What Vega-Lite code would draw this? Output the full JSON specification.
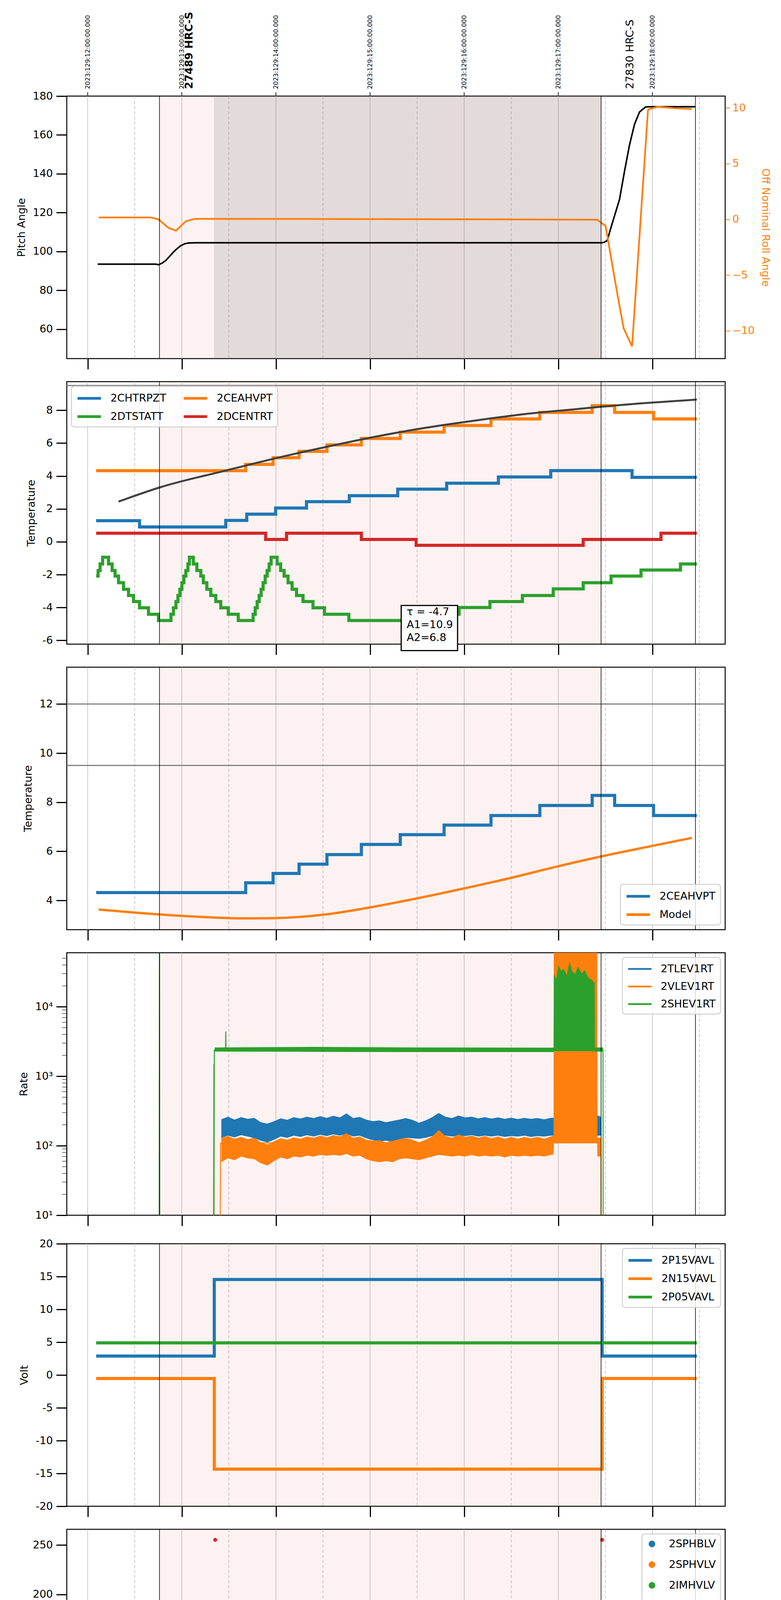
{
  "$schema": "https://vega.github.io/schema/vega-lite/v6.json",
  "background": "white",
  "padding": {"left": 31, "top": 29, "right": 5, "bottom": 0},
  "spacing": 27,
  "datasets": {
    "hg": [{"t": 8}, {"t": 9}, {"t": 10}, {"t": 11}, {"t": 12}, {"t": 13}, {"t": 14}],
    "mg": [{"t": 8.5}, {"t": 9.5}, {"t": 10.5}, {"t": 11.5}, {"t": 12.5}, {"t": 13.5}, {"t": 14.5}],
    "shade": [{"s": 8.763, "e": 13.455}],
    "slew": [{"s": 9.343, "e": 13.455}],
    "vl": [{"t": 8.763}, {"t": 13.455}, {"t": 14.457}],
    "lim2": [{"v": 9.5}],
    "lim3": [{"v": 12}, {"v": 9.5}],
    "minor": [
      {"t": 7.778, "v": 20}, {"t": 7.778, "v": 30}, {"t": 7.778, "v": 40}, {"t": 7.778, "v": 50}, {"t": 7.778, "v": 60}, {"t": 7.778, "v": 70}, {"t": 7.778, "v": 80}, {"t": 7.778, "v": 90},
      {"t": 7.778, "v": 200}, {"t": 7.778, "v": 300}, {"t": 7.778, "v": 400}, {"t": 7.778, "v": 500}, {"t": 7.778, "v": 600}, {"t": 7.778, "v": 700}, {"t": 7.778, "v": 800}, {"t": 7.778, "v": 900},
      {"t": 7.778, "v": 2000}, {"t": 7.778, "v": 3000}, {"t": 7.778, "v": 4000}, {"t": 7.778, "v": 5000}, {"t": 7.778, "v": 6000}, {"t": 7.778, "v": 7000}, {"t": 7.778, "v": 8000}, {"t": 7.778, "v": 9000},
      {"t": 7.778, "v": 20000}, {"t": 7.778, "v": 30000}, {"t": 7.778, "v": 40000}, {"t": 7.778, "v": 50000}
    ],
    "toplab": [
      {"t": 8, "y": 183.6, "label": "2023:129:12:00:00.000"}, {"t": 9, "y": 183.6, "label": "2023:129:13:00:00.000"},
      {"t": 10, "y": 183.6, "label": "2023:129:14:00:00.000"}, {"t": 11, "y": 183.6, "label": "2023:129:15:00:00.000"},
      {"t": 12, "y": 183.6, "label": "2023:129:16:00:00.000"}, {"t": 13, "y": 183.6, "label": "2023:129:17:00:00.000"},
      {"t": 14, "y": 183.6, "label": "2023:129:18:00:00.000"}
    ],
    "obs": [{"label": "27489 HRC-S", "t": 9.079, "y": 183.6}, {"label": "27830 HRC-S", "t": 13.764, "y": 183.6}],
    "att": [
      {"k": "pitch", "t": 8.106, "v": 93.5}, {"k": "pitch", "t": 8.726, "v": 93.5}, {"k": "pitch", "t": 8.752, "v": 93.2},
      {"k": "pitch", "t": 8.790, "v": 94.0}, {"k": "pitch", "t": 8.832, "v": 95.5}, {"k": "pitch", "t": 8.870, "v": 97.5},
      {"k": "pitch", "t": 8.911, "v": 99.7}, {"k": "pitch", "t": 8.950, "v": 101.5}, {"k": "pitch", "t": 8.990, "v": 103.0},
      {"k": "pitch", "t": 9.030, "v": 104.0}, {"k": "pitch", "t": 9.070, "v": 104.4}, {"k": "pitch", "t": 9.149, "v": 104.5},
      {"k": "pitch", "t": 13.466, "v": 104.5}, {"k": "pitch", "t": 13.493, "v": 104.9}, {"k": "pitch", "t": 13.519, "v": 105.6},
      {"k": "pitch", "t": 13.572, "v": 114.3}, {"k": "pitch", "t": 13.651, "v": 126.9}, {"k": "pitch", "t": 13.704, "v": 141.4},
      {"k": "pitch", "t": 13.757, "v": 154.9}, {"k": "pitch", "t": 13.810, "v": 165.5}, {"k": "pitch", "t": 13.863, "v": 171.8},
      {"k": "pitch", "t": 13.927, "v": 174.4}, {"k": "pitch", "t": 13.969, "v": 174.5}, {"k": "pitch", "t": 14.457, "v": 174.5},
      {"k": "roll", "t": 8.117, "v": 0.17}, {"k": "roll", "t": 8.673, "v": 0.17}, {"k": "roll", "t": 8.752, "v": 0.0},
      {"k": "roll", "t": 8.858, "v": -0.76}, {"k": "roll", "t": 8.938, "v": -1.01}, {"k": "roll", "t": 9.043, "v": -0.17},
      {"k": "roll", "t": 9.139, "v": 0.05}, {"k": "roll", "t": 10.79, "v": 0.03}, {"k": "roll", "t": 12.38, "v": 0.0},
      {"k": "roll", "t": 13.413, "v": -0.03}, {"k": "roll", "t": 13.503, "v": -0.59}, {"k": "roll", "t": 13.556, "v": -3.2},
      {"k": "roll", "t": 13.625, "v": -6.57}, {"k": "roll", "t": 13.694, "v": -9.76}, {"k": "roll", "t": 13.784, "v": -11.4},
      {"k": "roll", "t": 13.953, "v": 9.8}, {"k": "roll", "t": 13.969, "v": 9.9}, {"k": "roll", "t": 14.059, "v": 10.1},
      {"k": "roll", "t": 14.234, "v": 9.97}, {"k": "roll", "t": 14.419, "v": 9.9}
    ],
    "p2": [
      {"s": "2CHTRPZT", "t": 8.090, "v": 1.28}, {"s": "2CHTRPZT", "t": 8.551, "v": 0.9}, {"s": "2CHTRPZT", "t": 9.467, "v": 1.3},
      {"s": "2CHTRPZT", "t": 9.690, "v": 1.68}, {"s": "2CHTRPZT", "t": 9.997, "v": 2.05}, {"s": "2CHTRPZT", "t": 10.325, "v": 2.44},
      {"s": "2CHTRPZT", "t": 10.780, "v": 2.8}, {"s": "2CHTRPZT", "t": 11.294, "v": 3.2}, {"s": "2CHTRPZT", "t": 11.814, "v": 3.56},
      {"s": "2CHTRPZT", "t": 12.364, "v": 3.94}, {"s": "2CHTRPZT", "t": 12.920, "v": 4.33}, {"s": "2CHTRPZT", "t": 13.784, "v": 3.92},
      {"s": "2CHTRPZT", "t": 14.472, "v": 3.92},
      {"s": "2CEAHVPT", "t": 8.090, "v": 4.32}, {"s": "2CEAHVPT", "t": 9.679, "v": 4.71}, {"s": "2CEAHVPT", "t": 9.970, "v": 5.11},
      {"s": "2CEAHVPT", "t": 10.246, "v": 5.5}, {"s": "2CEAHVPT", "t": 10.542, "v": 5.89}, {"s": "2CEAHVPT", "t": 10.908, "v": 6.28},
      {"s": "2CEAHVPT", "t": 11.321, "v": 6.67}, {"s": "2CEAHVPT", "t": 11.787, "v": 7.07}, {"s": "2CEAHVPT", "t": 12.285, "v": 7.47},
      {"s": "2CEAHVPT", "t": 12.804, "v": 7.87}, {"s": "2CEAHVPT", "t": 13.360, "v": 8.28}, {"s": "2CEAHVPT", "t": 13.599, "v": 7.87},
      {"s": "2CEAHVPT", "t": 14.012, "v": 7.47}, {"s": "2CEAHVPT", "t": 14.472, "v": 7.47},
      {"s": "2DCENTRT", "t": 8.090, "v": 0.52}, {"s": "2DCENTRT", "t": 9.891, "v": 0.14}, {"s": "2DCENTRT", "t": 10.113, "v": 0.52},
      {"s": "2DCENTRT", "t": 10.908, "v": 0.14}, {"s": "2DCENTRT", "t": 11.490, "v": -0.22}, {"s": "2DCENTRT", "t": 13.265, "v": 0.14},
      {"s": "2DCENTRT", "t": 14.091, "v": 0.52}, {"s": "2DCENTRT", "t": 14.472, "v": 0.52},
      {"s": "2DTSTATT", "t": 8.090, "v": -2.09}, {"s": "2DTSTATT", "t": 8.111, "v": -1.75}, {"s": "2DTSTATT", "t": 8.132, "v": -1.35},
      {"s": "2DTSTATT", "t": 8.159, "v": -0.94}, {"s": "2DTSTATT", "t": 8.222, "v": -1.35}, {"s": "2DTSTATT", "t": 8.260, "v": -1.75},
      {"s": "2DTSTATT", "t": 8.291, "v": -2.09}, {"s": "2DTSTATT", "t": 8.328, "v": -2.49}, {"s": "2DTSTATT", "t": 8.381, "v": -2.89},
      {"s": "2DTSTATT", "t": 8.434, "v": -3.27}, {"s": "2DTSTATT", "t": 8.487, "v": -3.64}, {"s": "2DTSTATT", "t": 8.551, "v": -4.02},
      {"s": "2DTSTATT", "t": 8.646, "v": -4.41}, {"s": "2DTSTATT", "t": 8.752, "v": -4.79}, {"s": "2DTSTATT", "t": 8.885, "v": -4.41},
      {"s": "2DTSTATT", "t": 8.911, "v": -4.02}, {"s": "2DTSTATT", "t": 8.938, "v": -3.64}, {"s": "2DTSTATT", "t": 8.959, "v": -3.27},
      {"s": "2DTSTATT", "t": 8.980, "v": -2.89}, {"s": "2DTSTATT", "t": 9.001, "v": -2.49}, {"s": "2DTSTATT", "t": 9.022, "v": -2.09},
      {"s": "2DTSTATT", "t": 9.043, "v": -1.75}, {"s": "2DTSTATT", "t": 9.065, "v": -1.35}, {"s": "2DTSTATT", "t": 9.081, "v": -0.94},
      {"s": "2DTSTATT", "t": 9.123, "v": -1.35}, {"s": "2DTSTATT", "t": 9.160, "v": -1.75}, {"s": "2DTSTATT", "t": 9.202, "v": -2.09},
      {"s": "2DTSTATT", "t": 9.229, "v": -2.49}, {"s": "2DTSTATT", "t": 9.266, "v": -2.89}, {"s": "2DTSTATT", "t": 9.308, "v": -3.27},
      {"s": "2DTSTATT", "t": 9.361, "v": -3.64}, {"s": "2DTSTATT", "t": 9.414, "v": -4.02}, {"s": "2DTSTATT", "t": 9.494, "v": -4.41},
      {"s": "2DTSTATT", "t": 9.600, "v": -4.79}, {"s": "2DTSTATT", "t": 9.758, "v": -4.41}, {"s": "2DTSTATT", "t": 9.780, "v": -4.02},
      {"s": "2DTSTATT", "t": 9.801, "v": -3.64}, {"s": "2DTSTATT", "t": 9.822, "v": -3.27}, {"s": "2DTSTATT", "t": 9.843, "v": -2.89},
      {"s": "2DTSTATT", "t": 9.864, "v": -2.49}, {"s": "2DTSTATT", "t": 9.886, "v": -2.09}, {"s": "2DTSTATT", "t": 9.907, "v": -1.75},
      {"s": "2DTSTATT", "t": 9.928, "v": -1.35}, {"s": "2DTSTATT", "t": 9.949, "v": -0.94}, {"s": "2DTSTATT", "t": 10.013, "v": -1.35},
      {"s": "2DTSTATT", "t": 10.050, "v": -1.75}, {"s": "2DTSTATT", "t": 10.087, "v": -2.09}, {"s": "2DTSTATT", "t": 10.129, "v": -2.49},
      {"s": "2DTSTATT", "t": 10.172, "v": -2.89}, {"s": "2DTSTATT", "t": 10.219, "v": -3.27}, {"s": "2DTSTATT", "t": 10.288, "v": -3.64},
      {"s": "2DTSTATT", "t": 10.394, "v": -4.02}, {"s": "2DTSTATT", "t": 10.516, "v": -4.41}, {"s": "2DTSTATT", "t": 10.775, "v": -4.79},
      {"s": "2DTSTATT", "t": 11.586, "v": -4.41}, {"s": "2DTSTATT", "t": 11.946, "v": -4.0}, {"s": "2DTSTATT", "t": 12.274, "v": -3.64},
      {"s": "2DTSTATT", "t": 12.619, "v": -3.27}, {"s": "2DTSTATT", "t": 12.947, "v": -2.87}, {"s": "2DTSTATT", "t": 13.265, "v": -2.49},
      {"s": "2DTSTATT", "t": 13.561, "v": -2.09}, {"s": "2DTSTATT", "t": 13.879, "v": -1.72}, {"s": "2DTSTATT", "t": 14.298, "v": -1.35},
      {"s": "2DTSTATT", "t": 14.472, "v": -1.35}
    ],
    "fit": [
      {"t": 8.328, "v": 2.44}, {"t": 8.763, "v": 3.30}, {"t": 9.467, "v": 4.33}, {"t": 9.997, "v": 5.08},
      {"t": 10.526, "v": 5.76}, {"t": 11.056, "v": 6.39}, {"t": 11.586, "v": 6.93}, {"t": 12.115, "v": 7.37},
      {"t": 12.645, "v": 7.77}, {"t": 13.175, "v": 8.06}, {"t": 13.704, "v": 8.34}, {"t": 14.472, "v": 8.65}
    ],
    "box": [{"t1": 11.331, "t2": 11.930, "v1": -3.88, "v2": -6.62, "tx": 11.39, "ty": -3.98, "txt": "τ = -4.7\nA1=10.9\nA2=6.8"}],
    "p3": [
      {"s": "2CEAHVPT", "t": 8.090, "v": 4.32}, {"s": "2CEAHVPT", "t": 9.679, "v": 4.72}, {"s": "2CEAHVPT", "t": 9.970, "v": 5.1},
      {"s": "2CEAHVPT", "t": 10.246, "v": 5.48}, {"s": "2CEAHVPT", "t": 10.542, "v": 5.87}, {"s": "2CEAHVPT", "t": 10.908, "v": 6.28},
      {"s": "2CEAHVPT", "t": 11.321, "v": 6.68}, {"s": "2CEAHVPT", "t": 11.787, "v": 7.07}, {"s": "2CEAHVPT", "t": 12.285, "v": 7.46},
      {"s": "2CEAHVPT", "t": 12.804, "v": 7.87}, {"s": "2CEAHVPT", "t": 13.360, "v": 8.28}, {"s": "2CEAHVPT", "t": 13.599, "v": 7.87},
      {"s": "2CEAHVPT", "t": 14.012, "v": 7.46}, {"s": "2CEAHVPT", "t": 14.472, "v": 7.46}
    ],
    "model": [
      {"s": "Model", "t": 8.117, "v": 3.63}, {"s": "Model", "t": 8.487, "v": 3.51}, {"s": "Model", "t": 8.768, "v": 3.43},
      {"s": "Model", "t": 9.202, "v": 3.33}, {"s": "Model", "t": 9.679, "v": 3.27}, {"s": "Model", "t": 9.970, "v": 3.28},
      {"s": "Model", "t": 10.526, "v": 3.43}, {"s": "Model", "t": 11.003, "v": 3.72}, {"s": "Model", "t": 11.480, "v": 4.07},
      {"s": "Model", "t": 12.010, "v": 4.50}, {"s": "Model", "t": 12.486, "v": 4.91}, {"s": "Model", "t": 12.963, "v": 5.36},
      {"s": "Model", "t": 13.440, "v": 5.78}, {"s": "Model", "t": 13.969, "v": 6.20}, {"s": "Model", "t": 14.419, "v": 6.55}
    ],
    "p4l": [
      {"s": "2VLEV1RT", "t": 9.336, "v": 1}, {"s": "2VLEV1RT", "t": 9.340, "v": 1500}, {"s": "2VLEV1RT", "t": 9.344, "v": 1},
      {"s": "2VLEV1RT", "t": 9.405, "v": 1}, {"s": "2VLEV1RT", "t": 9.412, "v": 110}, {"s": "2VLEV1RT", "t": 13.413, "v": 110},
      {"s": "2VLEV1RT", "t": 13.453, "v": 100}, {"s": "2VLEV1RT", "t": 13.455, "v": 1},
      {"s": "2SHEV1RT", "t": 8.090, "v": 1}, {"s": "2SHEV1RT", "t": 8.760, "v": 1}, {"s": "2SHEV1RT", "t": 8.763, "v": 1000000},
      {"s": "2SHEV1RT", "t": 8.766, "v": 1}, {"s": "2SHEV1RT", "t": 9.340, "v": 1}, {"s": "2SHEV1RT", "t": 9.346, "v": 2400},
      {"s": "2SHEV1RT", "t": 9.465, "v": 2400}, {"s": "2SHEV1RT", "t": 9.467, "v": 4400}, {"s": "2SHEV1RT", "t": 9.469, "v": 2400},
      {"s": "2SHEV1RT", "t": 13.475, "v": 2400}, {"s": "2SHEV1RT", "t": 13.477, "v": 1}, {"s": "2SHEV1RT", "t": 14.472, "v": 1}
    ],
    "p4b": [
      {"s": "2TLEV1RT", "t": 9.42, "hi": 240, "lo": 130}, {"s": "2TLEV1RT", "t": 9.49, "hi": 262, "lo": 140}, {"s": "2TLEV1RT", "t": 9.56, "hi": 238, "lo": 132},
      {"s": "2TLEV1RT", "t": 9.63, "hi": 258, "lo": 142}, {"s": "2TLEV1RT", "t": 9.70, "hi": 244, "lo": 136}, {"s": "2TLEV1RT", "t": 9.77, "hi": 252, "lo": 128},
      {"s": "2TLEV1RT", "t": 9.84, "hi": 218, "lo": 118}, {"s": "2TLEV1RT", "t": 9.91, "hi": 208, "lo": 112}, {"s": "2TLEV1RT", "t": 9.98, "hi": 226, "lo": 122},
      {"s": "2TLEV1RT", "t": 10.05, "hi": 248, "lo": 136}, {"s": "2TLEV1RT", "t": 10.12, "hi": 236, "lo": 130}, {"s": "2TLEV1RT", "t": 10.19, "hi": 258, "lo": 140},
      {"s": "2TLEV1RT", "t": 10.26, "hi": 246, "lo": 134}, {"s": "2TLEV1RT", "t": 10.33, "hi": 262, "lo": 142}, {"s": "2TLEV1RT", "t": 10.40, "hi": 250, "lo": 136},
      {"s": "2TLEV1RT", "t": 10.47, "hi": 266, "lo": 144}, {"s": "2TLEV1RT", "t": 10.54, "hi": 252, "lo": 138}, {"s": "2TLEV1RT", "t": 10.61, "hi": 270, "lo": 146},
      {"s": "2TLEV1RT", "t": 10.68, "hi": 256, "lo": 140}, {"s": "2TLEV1RT", "t": 10.75, "hi": 292, "lo": 148}, {"s": "2TLEV1RT", "t": 10.82, "hi": 250, "lo": 136},
      {"s": "2TLEV1RT", "t": 10.89, "hi": 260, "lo": 140}, {"s": "2TLEV1RT", "t": 10.96, "hi": 238, "lo": 128}, {"s": "2TLEV1RT", "t": 11.03, "hi": 226, "lo": 120},
      {"s": "2TLEV1RT", "t": 11.10, "hi": 232, "lo": 116}, {"s": "2TLEV1RT", "t": 11.17, "hi": 218, "lo": 118}, {"s": "2TLEV1RT", "t": 11.24, "hi": 228, "lo": 114},
      {"s": "2TLEV1RT", "t": 11.31, "hi": 238, "lo": 124}, {"s": "2TLEV1RT", "t": 11.38, "hi": 250, "lo": 130}, {"s": "2TLEV1RT", "t": 11.45, "hi": 236, "lo": 128},
      {"s": "2TLEV1RT", "t": 11.52, "hi": 214, "lo": 126}, {"s": "2TLEV1RT", "t": 11.59, "hi": 232, "lo": 130}, {"s": "2TLEV1RT", "t": 11.66, "hi": 258, "lo": 138},
      {"s": "2TLEV1RT", "t": 11.73, "hi": 296, "lo": 142}, {"s": "2TLEV1RT", "t": 11.80, "hi": 262, "lo": 140}, {"s": "2TLEV1RT", "t": 11.87, "hi": 250, "lo": 136},
      {"s": "2TLEV1RT", "t": 11.94, "hi": 272, "lo": 140}, {"s": "2TLEV1RT", "t": 12.01, "hi": 256, "lo": 138}, {"s": "2TLEV1RT", "t": 12.08, "hi": 262, "lo": 142},
      {"s": "2TLEV1RT", "t": 12.15, "hi": 248, "lo": 136}, {"s": "2TLEV1RT", "t": 12.22, "hi": 258, "lo": 140}, {"s": "2TLEV1RT", "t": 12.29, "hi": 246, "lo": 136},
      {"s": "2TLEV1RT", "t": 12.36, "hi": 256, "lo": 140}, {"s": "2TLEV1RT", "t": 12.43, "hi": 244, "lo": 134}, {"s": "2TLEV1RT", "t": 12.50, "hi": 254, "lo": 138},
      {"s": "2TLEV1RT", "t": 12.57, "hi": 242, "lo": 136}, {"s": "2TLEV1RT", "t": 12.64, "hi": 252, "lo": 140}, {"s": "2TLEV1RT", "t": 12.71, "hi": 244, "lo": 134},
      {"s": "2TLEV1RT", "t": 12.78, "hi": 250, "lo": 138}, {"s": "2TLEV1RT", "t": 12.85, "hi": 240, "lo": 136}, {"s": "2TLEV1RT", "t": 12.92, "hi": 252, "lo": 140},
      {"s": "2TLEV1RT", "t": 13.20, "hi": 260, "lo": 140}, {"s": "2TLEV1RT", "t": 13.40, "hi": 280, "lo": 140}, {"s": "2TLEV1RT", "t": 13.455, "hi": 260, "lo": 140},
      {"s": "2VLEV1RT", "t": 9.42, "hi": 130, "lo": 58}, {"s": "2VLEV1RT", "t": 9.49, "hi": 138, "lo": 66}, {"s": "2VLEV1RT", "t": 9.56, "hi": 126, "lo": 62},
      {"s": "2VLEV1RT", "t": 9.63, "hi": 134, "lo": 70}, {"s": "2VLEV1RT", "t": 9.70, "hi": 124, "lo": 66}, {"s": "2VLEV1RT", "t": 9.77, "hi": 130, "lo": 64},
      {"s": "2VLEV1RT", "t": 9.84, "hi": 112, "lo": 56}, {"s": "2VLEV1RT", "t": 9.91, "hi": 104, "lo": 52}, {"s": "2VLEV1RT", "t": 9.98, "hi": 116, "lo": 60},
      {"s": "2VLEV1RT", "t": 10.05, "hi": 128, "lo": 68}, {"s": "2VLEV1RT", "t": 10.12, "hi": 122, "lo": 64}, {"s": "2VLEV1RT", "t": 10.19, "hi": 132, "lo": 70},
      {"s": "2VLEV1RT", "t": 10.26, "hi": 126, "lo": 68}, {"s": "2VLEV1RT", "t": 10.33, "hi": 136, "lo": 72}, {"s": "2VLEV1RT", "t": 10.40, "hi": 130, "lo": 70},
      {"s": "2VLEV1RT", "t": 10.47, "hi": 140, "lo": 74}, {"s": "2VLEV1RT", "t": 10.54, "hi": 132, "lo": 72}, {"s": "2VLEV1RT", "t": 10.61, "hi": 142, "lo": 74},
      {"s": "2VLEV1RT", "t": 10.68, "hi": 136, "lo": 72}, {"s": "2VLEV1RT", "t": 10.75, "hi": 152, "lo": 76}, {"s": "2VLEV1RT", "t": 10.82, "hi": 130, "lo": 70},
      {"s": "2VLEV1RT", "t": 10.89, "hi": 136, "lo": 72}, {"s": "2VLEV1RT", "t": 10.96, "hi": 122, "lo": 64}, {"s": "2VLEV1RT", "t": 11.03, "hi": 118, "lo": 60},
      {"s": "2VLEV1RT", "t": 11.10, "hi": 120, "lo": 58}, {"s": "2VLEV1RT", "t": 11.17, "hi": 112, "lo": 60}, {"s": "2VLEV1RT", "t": 11.24, "hi": 118, "lo": 58},
      {"s": "2VLEV1RT", "t": 11.31, "hi": 124, "lo": 64}, {"s": "2VLEV1RT", "t": 11.38, "hi": 130, "lo": 66}, {"s": "2VLEV1RT", "t": 11.45, "hi": 122, "lo": 64},
      {"s": "2VLEV1RT", "t": 11.52, "hi": 112, "lo": 62}, {"s": "2VLEV1RT", "t": 11.59, "hi": 122, "lo": 66}, {"s": "2VLEV1RT", "t": 11.66, "hi": 136, "lo": 70},
      {"s": "2VLEV1RT", "t": 11.73, "hi": 168, "lo": 74}, {"s": "2VLEV1RT", "t": 11.80, "hi": 138, "lo": 72}, {"s": "2VLEV1RT", "t": 11.87, "hi": 130, "lo": 70},
      {"s": "2VLEV1RT", "t": 11.94, "hi": 146, "lo": 72}, {"s": "2VLEV1RT", "t": 12.01, "hi": 134, "lo": 70}, {"s": "2VLEV1RT", "t": 12.08, "hi": 140, "lo": 74},
      {"s": "2VLEV1RT", "t": 12.15, "hi": 130, "lo": 70}, {"s": "2VLEV1RT", "t": 12.22, "hi": 138, "lo": 72}, {"s": "2VLEV1RT", "t": 12.29, "hi": 128, "lo": 70},
      {"s": "2VLEV1RT", "t": 12.36, "hi": 136, "lo": 72}, {"s": "2VLEV1RT", "t": 12.43, "hi": 126, "lo": 68}, {"s": "2VLEV1RT", "t": 12.50, "hi": 134, "lo": 72},
      {"s": "2VLEV1RT", "t": 12.57, "hi": 126, "lo": 70}, {"s": "2VLEV1RT", "t": 12.64, "hi": 134, "lo": 72}, {"s": "2VLEV1RT", "t": 12.71, "hi": 128, "lo": 70},
      {"s": "2VLEV1RT", "t": 12.78, "hi": 134, "lo": 72}, {"s": "2VLEV1RT", "t": 12.85, "hi": 126, "lo": 70}, {"s": "2VLEV1RT", "t": 12.92, "hi": 136, "lo": 74},
      {"s": "2VLEV1RT", "t": 12.950, "hi": 140, "lo": 75},
      {"s": "2VLEV1RT", "t": 12.953, "lo": 110, "hi": 1000000}, {"s": "2VLEV1RT", "t": 13.413, "lo": 110, "hi": 1000000},
      {"s": "2VLEV1RT", "t": 13.416, "lo": 70, "hi": 130}, {"s": "2VLEV1RT", "t": 13.455, "lo": 70, "hi": 130},
      {"s": "2SHEV1RT", "t": 9.35, "lo": 2270, "hi": 2600}, {"s": "2SHEV1RT", "t": 10.4, "lo": 2250, "hi": 2650}, {"s": "2SHEV1RT", "t": 11.5, "lo": 2230, "hi": 2600},
      {"s": "2SHEV1RT", "t": 12.950, "lo": 2230, "hi": 2580},
      {"s": "2SHEV1RT", "t": 12.953, "lo": 2300, "hi": 30000}, {"s": "2SHEV1RT", "t": 12.98, "lo": 2300, "hi": 25000},
      {"s": "2SHEV1RT", "t": 13.00, "lo": 2300, "hi": 40000}, {"s": "2SHEV1RT", "t": 13.03, "lo": 2300, "hi": 33000},
      {"s": "2SHEV1RT", "t": 13.06, "lo": 2300, "hi": 35000}, {"s": "2SHEV1RT", "t": 13.09, "lo": 2300, "hi": 28000},
      {"s": "2SHEV1RT", "t": 13.12, "lo": 2300, "hi": 45000}, {"s": "2SHEV1RT", "t": 13.15, "lo": 2300, "hi": 32000},
      {"s": "2SHEV1RT", "t": 13.18, "lo": 2300, "hi": 30000}, {"s": "2SHEV1RT", "t": 13.21, "lo": 2300, "hi": 38000},
      {"s": "2SHEV1RT", "t": 13.25, "lo": 2300, "hi": 30000}, {"s": "2SHEV1RT", "t": 13.28, "lo": 2300, "hi": 34000},
      {"s": "2SHEV1RT", "t": 13.32, "lo": 2300, "hi": 26000}, {"s": "2SHEV1RT", "t": 13.35, "lo": 2300, "hi": 25000},
      {"s": "2SHEV1RT", "t": 13.387, "lo": 2300, "hi": 22000}, {"s": "2SHEV1RT", "t": 13.390, "lo": 2270, "hi": 2600},
      {"s": "2SHEV1RT", "t": 13.475, "lo": 2270, "hi": 2600}
    ],
    "p5": [
      {"s": "2P15VAVL", "t": 8.090, "v": 2.88}, {"s": "2P15VAVL", "t": 9.345, "v": 14.56}, {"s": "2P15VAVL", "t": 13.466, "v": 2.88}, {"s": "2P15VAVL", "t": 14.472, "v": 2.88},
      {"s": "2N15VAVL", "t": 8.090, "v": -0.54}, {"s": "2N15VAVL", "t": 9.345, "v": -14.35}, {"s": "2N15VAVL", "t": 13.466, "v": -0.54}, {"s": "2N15VAVL", "t": 14.472, "v": -0.54},
      {"s": "2P05VAVL", "t": 8.090, "v": 4.9}, {"s": "2P05VAVL", "t": 14.472, "v": 4.9}
    ],
    "p6p": [
      {"s": "2SPHBLV", "t": 9.361, "v": 118}, {"s": "2SPHBLV", "t": 9.364, "v": 102}, {"s": "2SPHBLV", "t": 9.372, "v": 97},
      {"s": "2SPHBLV", "t": 9.383, "v": 92}, {"s": "2SPHBLV", "t": 9.393, "v": 87}, {"s": "2SPHBLV", "t": 9.404, "v": 82},
      {"s": "2SPHVLV", "t": 9.358, "v": 127}, {"s": "2SPHVLV", "t": 9.360, "v": 124}, {"s": "2SPHVLV", "t": 9.366, "v": 96},
      {"s": "2SPHVLV", "t": 9.377, "v": 91}, {"s": "2SPHVLV", "t": 9.388, "v": 85.5}, {"s": "2SPHVLV", "t": 9.398, "v": 80},
      {"s": "2SPHVLV", "t": 9.404, "v": 75}, {"s": "2SPHVLV", "t": 12.979, "v": 127}, {"s": "2SPHVLV", "t": 13.069, "v": 127},
      {"s": "2SPHVLV", "t": 13.090, "v": 127}, {"s": "2SPHVLV", "t": 13.112, "v": 127}, {"s": "2SPHVLV", "t": 13.133, "v": 127},
      {"s": "2SPHVLV", "t": 13.149, "v": 127}, {"s": "2SPHVLV", "t": 13.387, "v": 127},
      {"s": "2IMHBLV", "t": 9.355, "v": 255.3}, {"s": "2IMHBLV", "t": 13.466, "v": 255.3}
    ],
    "p6l": [
      {"s": "2SPHBLV", "t": 9.414, "v": 77.5}, {"s": "2SPHBLV", "t": 13.466, "v": 77.5},
      {"s": "2SPHVLV", "t": 9.414, "v": 70.5}, {"s": "2SPHVLV", "t": 13.466, "v": 70.5}
    ],
    "p7l": [
      {"s": "2SPINATM", "t": 9.361, "v": 4.6}, {"s": "2SPINATM", "t": 9.414, "v": 4.15}, {"s": "2SPINATM", "t": 9.520, "v": 3.7},
      {"s": "2SPINATM", "t": 9.626, "v": 3.25}, {"s": "2SPINATM", "t": 9.732, "v": 3.7}, {"s": "2SPINATM", "t": 9.758, "v": 4.15},
      {"s": "2SPINATM", "t": 9.785, "v": 4.6}, {"s": "2SPINATM", "t": 9.806, "v": 5.05}, {"s": "2SPINATM", "t": 9.827, "v": 5.5},
      {"s": "2SPINATM", "t": 9.849, "v": 5.95}, {"s": "2SPINATM", "t": 9.870, "v": 6.4}, {"s": "2SPINATM", "t": 9.891, "v": 6.85},
      {"s": "2SPINATM", "t": 9.912, "v": 7.3}, {"s": "2SPINATM", "t": 9.933, "v": 7.75}, {"s": "2SPINATM", "t": 9.954, "v": 8.2},
      {"s": "2SPINATM", "t": 9.970, "v": 8.5}, {"s": "2SPINATM", "t": 10.007, "v": 8.0}, {"s": "2SPINATM", "t": 10.034, "v": 7.5},
      {"s": "2SPINATM", "t": 10.060, "v": 7.0}, {"s": "2SPINATM", "t": 10.087, "v": 6.5}, {"s": "2SPINATM", "t": 10.113, "v": 6.0},
      {"s": "2SPINATM", "t": 10.156, "v": 5.5}, {"s": "2SPINATM", "t": 10.209, "v": 5.05}, {"s": "2SPINATM", "t": 10.288, "v": 4.6},
      {"s": "2SPINATM", "t": 10.368, "v": 4.15}, {"s": "2SPINATM", "t": 10.474, "v": 3.7}, {"s": "2SPINATM", "t": 10.622, "v": 3.25},
      {"s": "2SPINATM", "t": 10.908, "v": 2.8}, {"s": "2SPINATM", "t": 13.387, "v": -2}, {"s": "2SPINATM", "t": 13.42, "v": 3.2},
      {"s": "2SPINATM", "t": 13.466, "v": 3.2},
      {"s": "2SPHVATM", "t": 9.340, "v": 12.9}, {"s": "2SPHVATM", "t": 9.345, "v": 13.9}, {"s": "2SPHVATM", "t": 9.520, "v": 14.25},
      {"s": "2SPHVATM", "t": 9.600, "v": 14.55}, {"s": "2SPHVATM", "t": 9.679, "v": 14.85}, {"s": "2SPHVATM", "t": 9.743, "v": 15.1},
      {"s": "2SPHVATM", "t": 9.827, "v": 15.35}, {"s": "2SPHVATM", "t": 9.928, "v": 15.6}, {"s": "2SPHVATM", "t": 10.023, "v": 15.9},
      {"s": "2SPHVATM", "t": 10.145, "v": 16.15}, {"s": "2SPHVATM", "t": 10.262, "v": 16.45}, {"s": "2SPHVATM", "t": 10.394, "v": 16.75},
      {"s": "2SPHVATM", "t": 10.553, "v": 17.05}, {"s": "2SPHVATM", "t": 10.712, "v": 17.3}, {"s": "2SPHVATM", "t": 10.897, "v": 17.55},
      {"s": "2SPHVATM", "t": 11.109, "v": 17.85}, {"s": "2SPHVATM", "t": 11.374, "v": 18.1}, {"s": "2SPHVATM", "t": 11.665, "v": 18.4},
      {"s": "2SPHVATM", "t": 12.010, "v": 18.7}, {"s": "2SPHVATM", "t": 12.396, "v": 18.95}, {"s": "2SPHVATM", "t": 12.815, "v": 19.25},
      {"s": "2SPHVATM", "t": 13.120, "v": 19.25}, {"s": "2SPHVATM", "t": 13.122, "v": -2}, {"s": "2SPHVATM", "t": 13.124, "v": 19.25},
      {"s": "2SPHVATM", "t": 13.228, "v": 19.55}, {"s": "2SPHVATM", "t": 13.342, "v": 19.55}, {"s": "2SPHVATM", "t": 13.344, "v": -2},
      {"s": "2SPHVATM", "t": 13.346, "v": 19.55}, {"s": "2SPHVATM", "t": 13.466, "v": 19.55},
      {"s": "2IMINATM", "t": 9.361, "v": 0.65}, {"s": "2IMINATM", "t": 10.606, "v": 0.65}, {"s": "2IMINATM", "t": 10.685, "v": 1.1},
      {"s": "2IMINATM", "t": 11.150, "v": 0.65}, {"s": "2IMINATM", "t": 11.158, "v": 1.1}, {"s": "2IMINATM", "t": 11.265, "v": 0.65},
      {"s": "2IMINATM", "t": 11.273, "v": 1.1}, {"s": "2IMINATM", "t": 13.466, "v": 1.1},
      {"s": "2IMHVATM", "t": 9.340, "v": -2}, {"s": "2IMHVATM", "t": 9.345, "v": 13.3}, {"s": "2IMHVATM", "t": 9.398, "v": 13.05},
      {"s": "2IMHVATM", "t": 9.732, "v": 13.35}, {"s": "2IMHVATM", "t": 10.156, "v": 13.6}, {"s": "2IMHVATM", "t": 10.458, "v": 13.85},
      {"s": "2IMHVATM", "t": 10.738, "v": 14.15}, {"s": "2IMHVATM", "t": 11.056, "v": 14.45}, {"s": "2IMHVATM", "t": 11.400, "v": 14.7},
      {"s": "2IMHVATM", "t": 11.771, "v": 14.95}, {"s": "2IMHVATM", "t": 12.168, "v": 15.25}, {"s": "2IMHVATM", "t": 12.576, "v": 15.55},
      {"s": "2IMHVATM", "t": 12.952, "v": 15.8}, {"s": "2IMHVATM", "t": 13.464, "v": 15.8}, {"s": "2IMHVATM", "t": 13.466, "v": 30},
      {"s": "2IMHVATM", "t": 13.468, "v": -2}
    ],
    "p7b": [
      {"s": "2SPINATM", "t": 12.952, "lo": -2, "hi": 2.8}, {"s": "2SPINATM", "t": 13.387, "lo": -2, "hi": 2.8},
      {"s": "2SPHVATM", "t": 12.952, "lo": 10.5, "hi": 19.4}, {"s": "2SPHVATM", "t": 13.387, "lo": 10.5, "hi": 19.4},
      {"s": "2IMINATM", "t": 10.606, "lo": 0.65, "hi": 1.1}, {"s": "2IMINATM", "t": 10.98, "lo": 0.65, "hi": 1.1},
      {"s": "2IMINATM", "t": 10.985, "lo": 1.1, "hi": 1.1}, {"s": "2IMINATM", "t": 12.950, "lo": 1.1, "hi": 1.1},
      {"s": "2IMINATM", "t": 12.952, "lo": 1.1, "hi": 2.9}, {"s": "2IMINATM", "t": 13.40, "lo": 1.1, "hi": 2.9},
      {"s": "2IMHVATM", "t": 12.952, "lo": 15.8, "hi": 19.4}, {"s": "2IMHVATM", "t": 13.387, "lo": 15.8, "hi": 19.4}
    ],
    "p8l": [
      {"s": "2FHTRMZT", "t": 8.090, "v": -11.33}, {"s": "2FHTRMZT", "t": 8.408, "v": -11.75}, {"s": "2FHTRMZT", "t": 9.410, "v": -11.3},
      {"s": "2FHTRMZT", "t": 9.416, "v": -11.75}, {"s": "2FHTRMZT", "t": 9.494, "v": -11.33}, {"s": "2FHTRMZT", "t": 9.663, "v": -10.89},
      {"s": "2FHTRMZT", "t": 9.811, "v": -10.47}, {"s": "2FHTRMZT", "t": 9.944, "v": -10.04}, {"s": "2FHTRMZT", "t": 10.076, "v": -9.64},
      {"s": "2FHTRMZT", "t": 10.198, "v": -9.22}, {"s": "2FHTRMZT", "t": 10.331, "v": -8.79}, {"s": "2FHTRMZT", "t": 10.458, "v": -8.39},
      {"s": "2FHTRMZT", "t": 10.508, "v": -9.7}, {"s": "2FHTRMZT", "t": 10.513, "v": -8.39}, {"s": "2FHTRMZT", "t": 10.595, "v": -7.99},
      {"s": "2FHTRMZT", "t": 10.749, "v": -7.59}, {"s": "2FHTRMZT", "t": 10.897, "v": -7.17}, {"s": "2FHTRMZT", "t": 11.046, "v": -6.77},
      {"s": "2FHTRMZT", "t": 11.204, "v": -6.37}, {"s": "2FHTRMZT", "t": 11.353, "v": -5.98}, {"s": "2FHTRMZT", "t": 11.517, "v": -5.58},
      {"s": "2FHTRMZT", "t": 11.686, "v": -5.2}, {"s": "2FHTRMZT", "t": 11.867, "v": -4.8}, {"s": "2FHTRMZT", "t": 12.036, "v": -4.43},
      {"s": "2FHTRMZT", "t": 12.206, "v": -4.02}, {"s": "2FHTRMZT", "t": 12.380, "v": -3.63}, {"s": "2FHTRMZT", "t": 12.566, "v": -3.27},
      {"s": "2FHTRMZT", "t": 12.762, "v": -2.89}, {"s": "2FHTRMZT", "t": 12.947, "v": -2.47}, {"s": "2FHTRMZT", "t": 13.360, "v": -1.75},
      {"s": "2FHTRMZT", "t": 14.181, "v": -2.13}, {"s": "2FHTRMZT", "t": 14.472, "v": -2.13},
      {"s": "2FRADPYT", "t": 9.958, "v": -12.6}, {"s": "2FRADPYT", "t": 9.962, "v": -12.23}, {"s": "2FRADPYT", "t": 10.092, "v": -11.77},
      {"s": "2FRADPYT", "t": 10.235, "v": -11.33}, {"s": "2FRADPYT", "t": 10.368, "v": -10.89}, {"s": "2FRADPYT", "t": 10.511, "v": -10.47},
      {"s": "2FRADPYT", "t": 10.669, "v": -10.04}, {"s": "2FRADPYT", "t": 10.823, "v": -9.62}, {"s": "2FRADPYT", "t": 10.987, "v": -9.22},
      {"s": "2FRADPYT", "t": 11.146, "v": -8.79}, {"s": "2FRADPYT", "t": 11.321, "v": -8.39}, {"s": "2FRADPYT", "t": 11.496, "v": -7.99},
      {"s": "2FRADPYT", "t": 11.670, "v": -7.59}, {"s": "2FRADPYT", "t": 11.856, "v": -7.17}, {"s": "2FRADPYT", "t": 12.047, "v": -6.77},
      {"s": "2FRADPYT", "t": 12.237, "v": -6.37}, {"s": "2FRADPYT", "t": 12.433, "v": -5.98}, {"s": "2FRADPYT", "t": 12.635, "v": -5.58},
      {"s": "2FRADPYT", "t": 12.846, "v": -5.2}, {"s": "2FRADPYT", "t": 13.053, "v": -4.8}, {"s": "2FRADPYT", "t": 13.265, "v": -4.44},
      {"s": "2FRADPYT", "t": 13.503, "v": -4.04}, {"s": "2FRADPYT", "t": 14.271, "v": -4.44}, {"s": "2FRADPYT", "t": 14.472, "v": -4.44},
      {"s": "2FEPRATM", "t": 9.345, "v": -9.76}, {"s": "2FEPRATM", "t": 9.398, "v": -9.36}, {"s": "2FEPRATM", "t": 9.451, "v": -9.02},
      {"s": "2FEPRATM", "t": 9.494, "v": -8.59}, {"s": "2FEPRATM", "t": 9.552, "v": -8.2}, {"s": "2FEPRATM", "t": 9.626, "v": -7.76},
      {"s": "2FEPRATM", "t": 9.721, "v": -7.4}, {"s": "2FEPRATM", "t": 9.822, "v": -7.0}, {"s": "2FEPRATM", "t": 9.944, "v": -6.6},
      {"s": "2FEPRATM", "t": 10.066, "v": -6.19}, {"s": "2FEPRATM", "t": 10.182, "v": -5.81}, {"s": "2FEPRATM", "t": 10.315, "v": -5.43},
      {"s": "2FEPRATM", "t": 10.447, "v": -5.03}, {"s": "2FEPRATM", "t": 10.590, "v": -4.63}, {"s": "2FEPRATM", "t": 10.728, "v": -4.23},
      {"s": "2FEPRATM", "t": 10.881, "v": -3.84}, {"s": "2FEPRATM", "t": 11.040, "v": -3.44}, {"s": "2FEPRATM", "t": 11.204, "v": -3.02},
      {"s": "2FEPRATM", "t": 11.374, "v": -2.62}, {"s": "2FEPRATM", "t": 11.549, "v": -2.24}, {"s": "2FEPRATM", "t": 11.734, "v": -1.82},
      {"s": "2FEPRATM", "t": 11.919, "v": -1.39}, {"s": "2FEPRATM", "t": 12.115, "v": -0.99}, {"s": "2FEPRATM", "t": 12.327, "v": -0.59},
      {"s": "2FEPRATM", "t": 12.529, "v": -0.19}, {"s": "2FEPRATM", "t": 12.751, "v": 0.23}, {"s": "2FEPRATM", "t": 12.952, "v": 0.23},
      {"s": "2FE00ATM", "t": 9.340, "v": -14}, {"s": "2FE00ATM", "t": 9.345, "v": -9.83}, {"s": "2FE00ATM", "t": 9.451, "v": -9.45},
      {"s": "2FE00ATM", "t": 9.573, "v": -9.04}, {"s": "2FE00ATM", "t": 9.668, "v": -8.62}, {"s": "2FE00ATM", "t": 9.692, "v": -7.82},
      {"s": "2FE00ATM", "t": 9.696, "v": -8.62}, {"s": "2FE00ATM", "t": 9.774, "v": -8.24}, {"s": "2FE00ATM", "t": 9.891, "v": -7.85},
      {"s": "2FE00ATM", "t": 9.940, "v": -8.3}, {"s": "2FE00ATM", "t": 9.946, "v": -7.85}, {"s": "2FE00ATM", "t": 9.986, "v": -7.48},
      {"s": "2FE00ATM", "t": 10.092, "v": -7.08}, {"s": "2FE00ATM", "t": 10.182, "v": -6.7}, {"s": "2FE00ATM", "t": 10.288, "v": -6.32},
      {"s": "2FE00ATM", "t": 10.394, "v": -5.92}, {"s": "2FE00ATM", "t": 10.500, "v": -5.58}, {"s": "2FE00ATM", "t": 10.617, "v": -5.2},
      {"s": "2FE00ATM", "t": 10.728, "v": -4.86}, {"s": "2FE00ATM", "t": 10.855, "v": -4.55}, {"s": "2FE00ATM", "t": 10.977, "v": -4.18},
      {"s": "2FE00ATM", "t": 11.099, "v": -3.84}, {"s": "2FE00ATM", "t": 11.215, "v": -3.47}, {"s": "2FE00ATM", "t": 11.236, "v": -4.2},
      {"s": "2FE00ATM", "t": 11.242, "v": -3.47}, {"s": "2FE00ATM", "t": 11.347, "v": -3.13}, {"s": "2FE00ATM", "t": 11.506, "v": -2.79},
      {"s": "2FE00ATM", "t": 11.612, "v": -2.45}, {"s": "2FE00ATM", "t": 11.718, "v": -2.11}, {"s": "2FE00ATM", "t": 11.904, "v": -1.76},
      {"s": "2FE00ATM", "t": 12.036, "v": -1.42}, {"s": "2FE00ATM", "t": 12.195, "v": -1.1}, {"s": "2FE00ATM", "t": 12.354, "v": -0.8},
      {"s": "2FE00ATM", "t": 12.486, "v": -0.46}, {"s": "2FE00ATM", "t": 12.629, "v": -0.11}, {"s": "2FE00ATM", "t": 12.804, "v": 0.15},
      {"s": "2FE00ATM", "t": 12.952, "v": 0.65}, {"s": "2FE00ATM", "t": 13.35, "v": 0.65}
    ],
    "p8b": [
      {"s": "2FEPRATM", "t": 12.952, "lo": -4.69, "hi": 0.7}, {"s": "2FEPRATM", "t": 13.40, "lo": -4.69, "hi": 0.7},
      {"s": "2FE00ATM", "t": 12.952, "lo": 0.45, "hi": 0.85}, {"s": "2FE00ATM", "t": 13.35, "lo": 0.45, "hi": 0.85}
    ],
    "p8r": [{"t": 13.122}, {"t": 13.334}, {"t": 13.455}]
  },
  "vconcat": [
    {
      "width": 1686, "height": 672,
      "resolve": {"scale": {"y": "independent"}},
      "layer": [
        {"data": {"name": "hg"}, "mark": {"type": "rule", "color": "#b0b0b0", "strokeWidth": 1.3},
         "encoding": {"x": {"field": "t", "type": "quantitative", "scale": {"domain": [7.778, 14.773], "nice": false, "zero": false},
           "axis": {"values": [8, 9, 10, 11, 12, 13, 14], "labels": false, "title": null}}}},
        {"data": {"name": "mg"}, "mark": {"type": "rule", "color": "#b0b0b0", "strokeWidth": 1.3, "strokeDash": [8, 5]},
         "encoding": {"x": {"field": "t", "type": "quantitative"}}},
        {"data": {"name": "shade"}, "mark": {"type": "rect", "color": "#f08080", "opacity": 0.1},
         "encoding": {"x": {"field": "s", "type": "quantitative"}, "x2": {"field": "e"}}},
        {"data": {"name": "slew"}, "mark": {"type": "rect", "color": "#7f7f7f", "opacity": 0.2},
         "encoding": {"x": {"field": "s", "type": "quantitative"}, "x2": {"field": "e"}}},
        {"data": {"name": "att"}, "transform": [{"filter": "datum.k == 'pitch'"}],
         "mark": {"type": "line", "color": "black", "strokeWidth": 4},
         "encoding": {"x": {"field": "t", "type": "quantitative"},
           "y": {"field": "v", "type": "quantitative", "scale": {"domain": [44.9, 180], "nice": false, "zero": false},
             "axis": {"title": "Pitch Angle", "values": [60, 80, 100, 120, 140, 160, 180]}}}},
        {"data": {"name": "att"}, "transform": [{"filter": "datum.k == 'roll'"}],
         "mark": {"type": "line", "color": "#ff7f0e", "strokeWidth": 4.5},
         "encoding": {"x": {"field": "t", "type": "quantitative"},
           "y": {"field": "v", "type": "quantitative", "scale": {"domain": [-12.49, 11.06], "nice": false, "zero": false},
             "axis": {"orient": "right", "title": "Off Nominal Roll Angle", "titleColor": "#ff7f0e", "labelColor": "#ff7f0e", "tickColor": "#ff7f0e",
               "values": [-10, -5, 0, 5, 10], "tickSize": 12, "tickWidth": 2, "labelPadding": 6}}}},
        {"data": {"name": "vl"}, "mark": {"type": "rule", "color": "black", "strokeWidth": 1.5},
         "encoding": {"x": {"field": "t", "type": "quantitative"}}},
        {"data": {"name": "hg"}, "mark": {"type": "tick", "orient": "vertical", "size": 10, "thickness": 2.5, "yOffset": -5, "color": "black"},
         "encoding": {"x": {"field": "t", "type": "quantitative"},
           "y": {"datum": 180, "type": "quantitative", "scale": {"domain": [44.9, 180], "nice": false, "zero": false}, "axis": null}}},
        {"data": {"name": "toplab"},
         "mark": {"type": "text", "angle": 270, "align": "left", "baseline": "middle", "fontSize": 16, "color": "black"},
         "encoding": {"x": {"field": "t", "type": "quantitative"},
           "y": {"field": "y", "type": "quantitative", "scale": {"domain": [44.9, 180], "nice": false, "zero": false}, "axis": null},
           "text": {"field": "label"}}},
        {"data": {"name": "obs"}, "transform": [{"filter": "datum.label == '27489 HRC-S'"}],
         "mark": {"type": "text", "angle": 270, "align": "left", "baseline": "middle", "fontSize": 27, "fontWeight": "bold", "color": "black"},
         "encoding": {"x": {"field": "t", "type": "quantitative"},
           "y": {"field": "y", "type": "quantitative", "scale": {"domain": [44.9, 180], "nice": false, "zero": false}, "axis": null},
           "text": {"field": "label"}}},
        {"data": {"name": "obs"}, "transform": [{"filter": "datum.label == '27830 HRC-S'"}],
         "mark": {"type": "text", "angle": 270, "align": "left", "baseline": "middle", "fontSize": 27, "color": "black"},
         "encoding": {"x": {"field": "t", "type": "quantitative"},
           "y": {"field": "y", "type": "quantitative", "scale": {"domain": [44.9, 180], "nice": false, "zero": false}, "axis": null},
           "text": {"field": "label"}}}
      ]
    },
    {
      "width": 1686, "height": 672,
      "layer": [
        {"data": {"name": "hg"}, "mark": {"type": "rule", "color": "#b0b0b0", "strokeWidth": 1.3},
         "encoding": {"x": {"field": "t", "type": "quantitative", "scale": {"domain": [7.778, 14.773], "nice": false, "zero": false},
           "axis": {"values": [8, 9, 10, 11, 12, 13, 14], "labels": false, "title": null}}}},
        {"data": {"name": "mg"}, "mark": {"type": "rule", "color": "#b0b0b0", "strokeWidth": 1.3, "strokeDash": [8, 5]},
         "encoding": {"x": {"field": "t", "type": "quantitative"}}},
        {"data": {"name": "shade"}, "mark": {"type": "rect", "color": "#f08080", "opacity": 0.1},
         "encoding": {"x": {"field": "s", "type": "quantitative"}, "x2": {"field": "e"}}},
        {"data": {"name": "p2"}, "mark": {"type": "line", "interpolate": "step-after", "strokeWidth": 8, "clip": true},
         "encoding": {"x": {"field": "t", "type": "quantitative"},
           "y": {"field": "v", "type": "quantitative", "scale": {"domain": [-6.23, 9.74], "nice": false, "zero": false},
             "axis": {"title": "Temperature", "values": [-6, -4, -2, 0, 2, 4, 6, 8], "labelExpr": "replace(datum.label, '−', '-')"}},
           "color": {"field": "s", "type": "nominal", "scale": {"domain": ["2CHTRPZT", "2DTSTATT", "2CEAHVPT", "2DCENTRT"], "range": ["#1f77b4", "#2ca02c", "#ff7f0e", "#d62728"]},
             "legend": {"title": null, "orient": "top-left", "columns": 2, "columnPadding": 30}}}},
        {"data": {"name": "fit"}, "mark": {"type": "line", "interpolate": "monotone", "color": "#404040", "strokeWidth": 5},
         "encoding": {"x": {"field": "t", "type": "quantitative"}, "y": {"field": "v", "type": "quantitative"}}},
        {"data": {"name": "lim2"}, "mark": {"type": "rule", "color": "#808080", "strokeWidth": 3},
         "encoding": {"y": {"field": "v", "type": "quantitative"}}},
        {"data": {"name": "box"}, "mark": {"type": "rect", "fill": "white", "stroke": "black", "strokeWidth": 3},
         "encoding": {"x": {"field": "t1", "type": "quantitative"}, "x2": {"field": "t2"}, "y": {"field": "v1", "type": "quantitative"}, "y2": {"field": "v2"}}},
        {"data": {"name": "box"}, "mark": {"type": "text", "align": "left", "baseline": "top", "fontSize": 27, "lineHeight": 33, "lineBreak": "\n", "color": "black"},
         "encoding": {"x": {"field": "tx", "type": "quantitative"}, "y": {"field": "ty", "type": "quantitative"}, "text": {"field": "txt"}}},
        {"data": {"name": "vl"}, "mark": {"type": "rule", "color": "black", "strokeWidth": 1.5},
         "encoding": {"x": {"field": "t", "type": "quantitative"}}}
      ]
    },
    {
      "width": 1686, "height": 672,
      "layer": [
        {"data": {"name": "hg"}, "mark": {"type": "rule", "color": "#b0b0b0", "strokeWidth": 1.3},
         "encoding": {"x": {"field": "t", "type": "quantitative", "scale": {"domain": [7.778, 14.773], "nice": false, "zero": false},
           "axis": {"values": [8, 9, 10, 11, 12, 13, 14], "labels": false, "title": null}}}},
        {"data": {"name": "mg"}, "mark": {"type": "rule", "color": "#b0b0b0", "strokeWidth": 1.3, "strokeDash": [8, 5]},
         "encoding": {"x": {"field": "t", "type": "quantitative"}}},
        {"data": {"name": "shade"}, "mark": {"type": "rect", "color": "#f08080", "opacity": 0.1},
         "encoding": {"x": {"field": "s", "type": "quantitative"}, "x2": {"field": "e"}}},
        {"data": {"name": "lim3"}, "mark": {"type": "rule", "color": "#808080", "strokeWidth": 3},
         "encoding": {"y": {"field": "v", "type": "quantitative"}}},
        {"data": {"name": "p3"}, "mark": {"type": "line", "interpolate": "step-after", "strokeWidth": 8, "clip": true},
         "encoding": {"x": {"field": "t", "type": "quantitative"},
           "y": {"field": "v", "type": "quantitative", "scale": {"domain": [2.81, 13.5], "nice": false, "zero": false},
             "axis": {"title": "Temperature", "values": [4, 6, 8, 10, 12], "format": "d"}},
           "color": {"field": "s", "type": "nominal", "scale": {"domain": ["2CEAHVPT", "Model"], "range": ["#1f77b4", "#ff7f0e"]},
             "legend": {"title": null, "orient": "bottom-right"}}}},
        {"data": {"name": "model"}, "mark": {"type": "line", "interpolate": "monotone", "strokeWidth": 6},
         "encoding": {"x": {"field": "t", "type": "quantitative"}, "y": {"field": "v", "type": "quantitative"},
           "color": {"field": "s", "type": "nominal"}}},
        {"data": {"name": "vl"}, "mark": {"type": "rule", "color": "black", "strokeWidth": 1.5},
         "encoding": {"x": {"field": "t", "type": "quantitative"}}}
      ]
    },
    {
      "width": 1686, "height": 672,
      "layer": [
        {"data": {"name": "hg"}, "mark": {"type": "rule", "color": "#b0b0b0", "strokeWidth": 1.3},
         "encoding": {"x": {"field": "t", "type": "quantitative", "scale": {"domain": [7.778, 14.773], "nice": false, "zero": false},
           "axis": {"values": [8, 9, 10, 11, 12, 13, 14], "labels": false, "title": null}}}},
        {"data": {"name": "mg"}, "mark": {"type": "rule", "color": "#b0b0b0", "strokeWidth": 1.3, "strokeDash": [8, 5]},
         "encoding": {"x": {"field": "t", "type": "quantitative"}}},
        {"data": {"name": "shade"}, "mark": {"type": "rect", "color": "#f08080", "opacity": 0.1},
         "encoding": {"x": {"field": "s", "type": "quantitative"}, "x2": {"field": "e"}}},
        {"data": {"name": "p4l"}, "mark": {"type": "line", "strokeWidth": 2.5, "clip": true},
         "encoding": {"x": {"field": "t", "type": "quantitative"},
           "y": {"field": "v", "type": "quantitative", "scale": {"type": "log", "domain": [10, 60000], "nice": false},
             "axis": {"title": "Rate", "values": [10, 100, 1000, 10000],
               "labelExpr": "datum.value == 10 ? '10¹' : datum.value == 100 ? '10²' : datum.value == 1000 ? '10³' : '10⁴'"}},
           "color": {"field": "s", "type": "nominal", "scale": {"domain": ["2TLEV1RT", "2VLEV1RT", "2SHEV1RT"], "range": ["#1f77b4", "#ff7f0e", "#2ca02c"]},
             "legend": {"title": null, "orient": "top-right", "symbolStrokeWidth": 4.5}}}},
        {"data": {"name": "p4b"}, "mark": {"type": "area", "clip": true},
         "encoding": {"x": {"field": "t", "type": "quantitative"}, "y": {"field": "lo", "type": "quantitative", "stack": null}, "y2": {"field": "hi"},
           "color": {"field": "s", "type": "nominal"}}},
        {"data": {"name": "minor"}, "mark": {"type": "tick", "orient": "horizontal", "size": 12, "thickness": 1.5, "xOffset": -6, "color": "black"},
         "encoding": {"x": {"field": "t", "type": "quantitative"}, "y": {"field": "v", "type": "quantitative"}}},
        {"data": {"name": "vl"}, "mark": {"type": "rule", "color": "black", "strokeWidth": 1.5},
         "encoding": {"x": {"field": "t", "type": "quantitative"}}}
      ]
    },
    {
      "width": 1686, "height": 672,
      "layer": [
        {"data": {"name": "hg"}, "mark": {"type": "rule", "color": "#b0b0b0", "strokeWidth": 1.3},
         "encoding": {"x": {"field": "t", "type": "quantitative", "scale": {"domain": [7.778, 14.773], "nice": false, "zero": false},
           "axis": {"values": [8, 9, 10, 11, 12, 13, 14], "labels": false, "title": null}}}},
        {"data": {"name": "mg"}, "mark": {"type": "rule", "color": "#b0b0b0", "strokeWidth": 1.3, "strokeDash": [8, 5]},
         "encoding": {"x": {"field": "t", "type": "quantitative"}}},
        {"data": {"name": "shade"}, "mark": {"type": "rect", "color": "#f08080", "opacity": 0.1},
         "encoding": {"x": {"field": "s", "type": "quantitative"}, "x2": {"field": "e"}}},
        {"data": {"name": "p5"}, "mark": {"type": "line", "interpolate": "step-after", "strokeWidth": 8, "clip": true},
         "encoding": {"x": {"field": "t", "type": "quantitative"},
           "y": {"field": "v", "type": "quantitative", "scale": {"domain": [-20, 20], "nice": false, "zero": false},
             "axis": {"title": "Volt", "values": [-20, -15, -10, -5, 0, 5, 10, 15, 20], "labelExpr": "replace(datum.label, '−', '-')"}},
           "color": {"field": "s", "type": "nominal", "scale": {"domain": ["2P15VAVL", "2N15VAVL", "2P05VAVL"], "range": ["#1f77b4", "#ff7f0e", "#2ca02c"]},
             "legend": {"title": null, "orient": "top-right"}}}},
        {"data": {"name": "vl"}, "mark": {"type": "rule", "color": "black", "strokeWidth": 1.5},
         "encoding": {"x": {"field": "t", "type": "quantitative"}}}
      ]
    },
    {
      "width": 1686, "height": 672,
      "layer": [
        {"data": {"name": "hg"}, "mark": {"type": "rule", "color": "#b0b0b0", "strokeWidth": 1.3},
         "encoding": {"x": {"field": "t", "type": "quantitative", "scale": {"domain": [7.778, 14.773], "nice": false, "zero": false},
           "axis": {"values": [8, 9, 10, 11, 12, 13, 14], "labels": false, "title": null}}}},
        {"data": {"name": "mg"}, "mark": {"type": "rule", "color": "#b0b0b0", "strokeWidth": 1.3, "strokeDash": [8, 5]},
         "encoding": {"x": {"field": "t", "type": "quantitative"}}},
        {"data": {"name": "shade"}, "mark": {"type": "rect", "color": "#f08080", "opacity": 0.1},
         "encoding": {"x": {"field": "s", "type": "quantitative"}, "x2": {"field": "e"}}},
        {"data": {"name": "p6p"}, "mark": {"type": "point", "filled": true, "opacity": 1, "size": 100, "shape": "circle"},
         "encoding": {"x": {"field": "t", "type": "quantitative"},
           "y": {"field": "v", "type": "quantitative", "scale": {"domain": [0, 266], "nice": false, "zero": false},
             "axis": {"title": "HV Monitor", "values": [0, 50, 100, 150, 200, 250]}},
           "color": {"field": "s", "type": "nominal", "scale": {"domain": ["2SPHBLV", "2SPHVLV", "2IMHVLV", "2IMHBLV"], "range": ["#1f77b4", "#ff7f0e", "#2ca02c", "#d62728"]},
             "legend": {"title": null, "orient": "top-right", "symbolType": "circle", "symbolSize": 100, "symbolOffset": 0, "labelOffset": 30}}}},
        {"data": {"name": "p6l"}, "transform": [{"filter": "datum.s == '2SPHBLV'"}], "mark": {"type": "line", "strokeCap": "round", "strokeWidth": 14},
         "encoding": {"x": {"field": "t", "type": "quantitative"}, "y": {"field": "v", "type": "quantitative"},
           "color": {"field": "s", "type": "nominal"}}},
        {"data": {"name": "p6l"}, "transform": [{"filter": "datum.s == '2SPHVLV'"}], "mark": {"type": "line", "strokeCap": "round", "strokeWidth": 11},
         "encoding": {"x": {"field": "t", "type": "quantitative"}, "y": {"field": "v", "type": "quantitative"},
           "color": {"field": "s", "type": "nominal"}}},
        {"data": {"name": "vl"}, "mark": {"type": "rule", "color": "black", "strokeWidth": 1.5},
         "encoding": {"x": {"field": "t", "type": "quantitative"}}}
      ]
    },
    {
      "width": 1686, "height": 672,
      "layer": [
        {"data": {"name": "hg"}, "mark": {"type": "rule", "color": "#b0b0b0", "strokeWidth": 1.3},
         "encoding": {"x": {"field": "t", "type": "quantitative", "scale": {"domain": [7.778, 14.773], "nice": false, "zero": false},
           "axis": {"values": [8, 9, 10, 11, 12, 13, 14], "labels": false, "title": null}}}},
        {"data": {"name": "mg"}, "mark": {"type": "rule", "color": "#b0b0b0", "strokeWidth": 1.3, "strokeDash": [8, 5]},
         "encoding": {"x": {"field": "t", "type": "quantitative"}}},
        {"data": {"name": "shade"}, "mark": {"type": "rect", "color": "#f08080", "opacity": 0.1},
         "encoding": {"x": {"field": "s", "type": "quantitative"}, "x2": {"field": "e"}}},
        {"data": {"name": "p7l"}, "mark": {"type": "line", "interpolate": "step-after", "strokeWidth": 8, "clip": true},
         "encoding": {"x": {"field": "t", "type": "quantitative"},
           "y": {"field": "v", "type": "quantitative", "scale": {"domain": [-0.85, 20.48], "nice": false, "zero": false},
             "axis": {"title": "Detector Temp", "values": [0, 2.5, 5, 7.5, 10, 12.5, 15, 17.5, 20], "format": ".1f"}},
           "color": {"field": "s", "type": "nominal", "scale": {"domain": ["2SPINATM", "2SPHVATM", "2IMINATM", "2IMHVATM"], "range": ["#1f77b4", "#ff7f0e", "#2ca02c", "#d62728"]},
             "legend": {"title": null, "orient": "top-right"}}}},
        {"data": {"name": "p7b"}, "mark": {"type": "area", "clip": true},
         "encoding": {"x": {"field": "t", "type": "quantitative"}, "y": {"field": "lo", "type": "quantitative", "stack": null}, "y2": {"field": "hi"},
           "color": {"field": "s", "type": "nominal"}}},
        {"data": {"name": "vl"}, "mark": {"type": "rule", "color": "black", "strokeWidth": 1.5},
         "encoding": {"x": {"field": "t", "type": "quantitative"}}}
      ]
    },
    {
      "width": 1686, "height": 672,
      "layer": [
        {"data": {"name": "hg"}, "mark": {"type": "rule", "color": "#b0b0b0", "strokeWidth": 1.3},
         "encoding": {"x": {"field": "t", "type": "quantitative", "scale": {"domain": [7.778, 14.773], "nice": false, "zero": false},
           "axis": {"values": [8, 9, 10, 11, 12, 13, 14], "title": "2023-05-09 (129)", "titleFontSize": 31, "titlePadding": 4,
             "labelExpr": "(datum.value < 10 ? '0' : '') + datum.value + 'h'", "labelPadding": 6}}}},
        {"data": {"name": "mg"}, "mark": {"type": "rule", "color": "#b0b0b0", "strokeWidth": 1.3, "strokeDash": [8, 5]},
         "encoding": {"x": {"field": "t", "type": "quantitative"}}},
        {"data": {"name": "mg"}, "mark": {"type": "text", "baseline": "top", "fontSize": 15, "color": "black", "dy": 9},
         "encoding": {"x": {"field": "t", "type": "quantitative"}, "y": {"datum": -12.4, "type": "quantitative"}, "text": {"value": "30"}}},
        {"data": {"name": "shade"}, "mark": {"type": "rect", "color": "#f08080", "opacity": 0.1},
         "encoding": {"x": {"field": "s", "type": "quantitative"}, "x2": {"field": "e"}}},
        {"data": {"name": "p8l"}, "mark": {"type": "line", "interpolate": "step-after", "strokeWidth": 8, "clip": true},
         "encoding": {"x": {"field": "t", "type": "quantitative"},
           "y": {"field": "v", "type": "quantitative", "scale": {"domain": [-12.4, 0.89], "nice": false, "zero": false},
             "axis": {"title": "FEA Temp", "values": [-12, -10, -8, -6, -4, -2, 0], "labelExpr": "replace(datum.label, '−', '-')"}},
           "color": {"field": "s", "type": "nominal", "scale": {"domain": ["2FHTRMZT", "2FRADPYT", "2FEPRATM", "2FE00ATM"], "range": ["#1f77b4", "#ff7f0e", "#2ca02c", "#d62728"]},
             "legend": {"title": null, "orient": "bottom-right"}}}},
        {"data": {"name": "p8b"}, "mark": {"type": "area", "clip": true},
         "encoding": {"x": {"field": "t", "type": "quantitative"}, "y": {"field": "lo", "type": "quantitative", "stack": null}, "y2": {"field": "hi"},
           "color": {"field": "s", "type": "nominal"}}},
        {"data": {"name": "p8r"}, "mark": {"type": "rule", "color": "#d62728", "strokeWidth": 6},
         "encoding": {"x": {"field": "t", "type": "quantitative"}}},
        {"data": {"name": "vl"}, "mark": {"type": "rule", "color": "black", "strokeWidth": 1.5},
         "encoding": {"x": {"field": "t", "type": "quantitative"}}}
      ]
    }
  ],
  "resolve": {"scale": {"color": "independent"}},
  "config": {
    "font": "DejaVu Sans",
    "view": {"stroke": "black", "strokeWidth": 2.5},
    "axis": {"domain": false, "grid": false, "labelFont": "DejaVu Sans", "labelFontSize": 27, "labelColor": "black", "labelPadding": 9,
      "tickColor": "black", "tickWidth": 3, "tickSize": 27, "titleFont": "DejaVu Sans", "titleFontSize": 27, "titleFontWeight": "normal",
      "titleColor": "black", "titlePadding": 14, "labelOverlap": false, "labelFlush": false},
    "legend": {"labelFont": "DejaVu Sans", "labelFontSize": 27, "labelColor": "black", "symbolType": "M-2,0H2", "symbolSize": 900,
      "symbolOffset": 15, "symbolStrokeWidth": 7, "fillColor": "rgba(255,255,255,0.8)", "strokeColor": "#d0d0d0", "strokeWidth": 2.5, "cornerRadius": 7,
      "padding": 12, "rowPadding": 14, "labelOffset": 36, "offset": 12}
  }
}
